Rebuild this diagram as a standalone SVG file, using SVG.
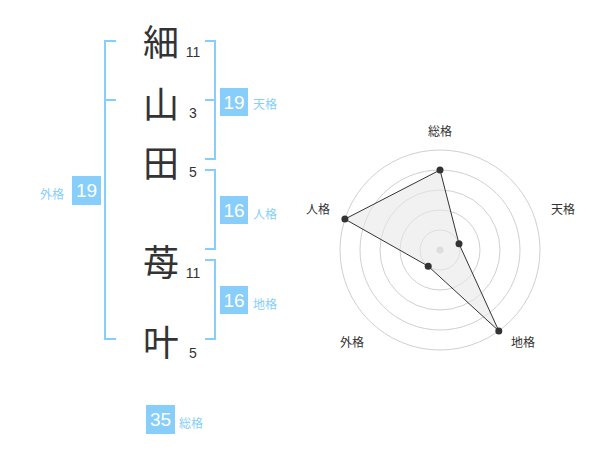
<svg xmlns="http://www.w3.org/2000/svg" width="600" height="470" viewBox="0 0 600 470">
<style>
.ch{font-family:"Noto Sans CJK JP","Noto Sans CJK SC",sans-serif;font-size:36px;fill:#333;text-anchor:middle;dominant-baseline:central}
.sn{font-family:"Liberation Sans",Arial,sans-serif;font-size:14px;fill:#333;text-anchor:middle}
.br{fill:none;stroke:#87CEFA;stroke-width:2}
.bx{fill:#87CEFA}
.bn{font-family:"Liberation Sans",Arial,sans-serif;font-size:19px;fill:#fff;text-anchor:middle;dominant-baseline:central}
.lb{font-family:"Noto Sans CJK JP","Noto Sans CJK SC",sans-serif;font-size:12px;fill:#87CEFA;dominant-baseline:central}
.rl{font-family:"Noto Sans CJK JP","Noto Sans CJK SC",sans-serif;font-size:12px;fill:#333;text-anchor:middle;dominant-baseline:central}
.ring{fill:none;stroke:#d0d0d0;stroke-width:1}
.pt{fill:#333}
</style>
<g id="name">
<g id="c1"><text class="ch" x="161" y="40">細</text><text class="sn" x="193" y="57">11</text></g>
<g id="c2"><text class="ch" x="161" y="102">山</text><text class="sn" x="193" y="118">3</text></g>
<g id="c3"><text class="ch" x="161" y="161">田</text><text class="sn" x="193" y="177">5</text></g>
<g id="c4"><text class="ch" x="161" y="260">苺</text><text class="sn" x="193" y="278">11</text></g>
<g id="c5"><text class="ch" x="161" y="340">叶</text><text class="sn" x="193" y="358">5</text></g>
</g>
<g id="connectors">
<path class="br" d="M116,41 H105 V339 H116 M105,100 H116"/>
<path class="br" d="M205,41 H215 V159 H205 M205,100 H215"/>
<path class="br" d="M205,170 H215 V249 H205"/>
<path class="br" d="M205,260 H215 V339 H205"/>
</g>
<g id="tenkaku"><rect class="bx" x="220" y="88" width="28" height="28"/><text class="bn" x="234" y="102">19</text><text class="lb" x="253" y="103">天格</text></g>
<g id="jinkaku"><rect class="bx" x="220" y="196" width="28" height="28"/><text class="bn" x="234" y="210">16</text><text class="lb" x="253" y="213">人格</text></g>
<g id="chikaku"><rect class="bx" x="220" y="286" width="28" height="28"/><text class="bn" x="234" y="300">16</text><text class="lb" x="253" y="303">地格</text></g>
<g id="gaikaku"><rect class="bx" x="72" y="176" width="29" height="29"/><text class="bn" x="86.5" y="190.5">19</text><text class="lb" x="40" y="193">外格</text></g>
<g id="soukaku"><rect class="bx" x="146" y="405" width="29" height="29"/><text class="bn" x="160.5" y="419.5">35</text><text class="lb" x="179" y="422">総格</text></g>
<g id="radar">
<circle class="ring" cx="440" cy="250" r="20"/>
<circle class="ring" cx="440" cy="250" r="40"/>
<circle class="ring" cx="440" cy="250" r="60"/>
<circle class="ring" cx="440" cy="250" r="80"/>
<circle class="ring" cx="440" cy="250" r="100"/>
<circle cx="440" cy="250" r="3.5" fill="#ccc"/>
<polygon points="440,170 459,243.8 498.8,330.9 428.2,266.2 344.9,219.1" fill="#e8e8e8" fill-opacity="0.6" stroke="#333" stroke-width="1"/>
<circle class="pt" cx="440" cy="170" r="3.5"/>
<circle class="pt" cx="459" cy="243.8" r="3.5"/>
<circle class="pt" cx="498.8" cy="330.9" r="3.5"/>
<circle class="pt" cx="428.2" cy="266.2" r="3.5"/>
<circle class="pt" cx="344.9" cy="219.1" r="3.5"/>
<text class="rl" x="440" y="130">総格</text>
<text class="rl" x="563" y="208">天格</text>
<text class="rl" x="523" y="341">地格</text>
<text class="rl" x="352" y="341">外格</text>
<text class="rl" x="318" y="208">人格</text>
</g>
</svg>
